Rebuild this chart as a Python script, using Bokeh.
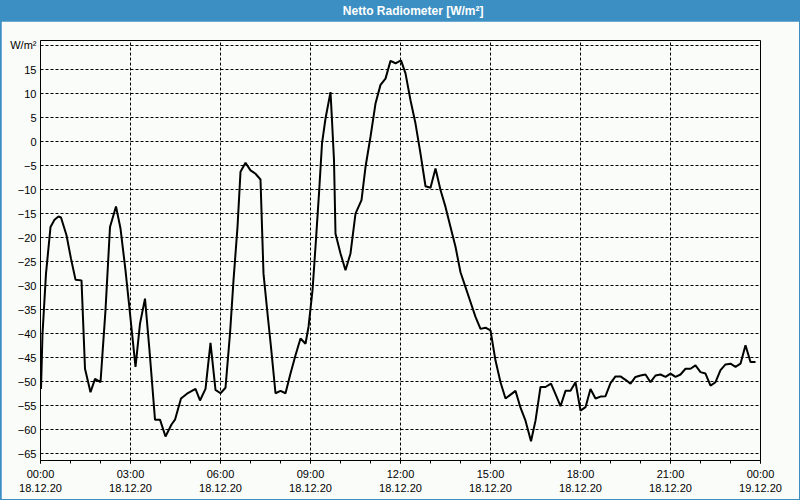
import numpy as np
from bokeh.plotting import figure
from bokeh.layouts import column
from bokeh.models import FixedTicker, Range1d
from bokeh.core.properties import value
from bokeh.embed import file_html
from bokeh.resources import INLINE

title_text = "Netto Radiometer [W/m²]"
y_unit_label = "W/m²"

# sample times (minutes after 18.12.20 00:00) and radiation values (W/m²)
minutes = [1, 4, 11, 20, 28, 36, 41, 52, 61, 70, 82, 89, 100, 109, 120, 130, 139, 151, 160, 170,
           179, 190, 199, 209, 218, 229, 239, 250, 262, 269, 281, 293, 310, 319, 330, 340, 350, 360, 370, 379,
           386, 394, 400, 410, 420, 430, 440, 446, 454, 461, 470, 480, 490, 500, 510, 520, 530, 536, 544, 550,
           557, 563, 570, 580, 583, 587, 590, 600, 610, 620, 630, 642, 650, 660, 670, 680, 690, 700, 710, 721,
           730, 740, 750, 760, 770, 780, 790, 800, 810, 820, 830, 840, 850, 860, 870, 880, 890, 900, 910, 920,
           930, 950, 960, 970, 981, 990, 1000, 1010, 1021, 1030, 1040, 1050, 1060, 1070, 1080, 1090, 1100, 1110, 1120, 1130,
           1140, 1150, 1160, 1170, 1180, 1190, 1200, 1210, 1220, 1230, 1240, 1250, 1260, 1270, 1280, 1290, 1300, 1310, 1320, 1330,
           1340, 1350, 1360, 1370, 1380, 1390, 1400, 1410, 1420, 1430]
values = [-51.5, -40.0, -27.5, -17.8, -16.3, -15.6, -15.8, -19.5, -24.4, -28.75, -28.9, -47.3, -52.2, -49.4, -50.1, -35.1, -17.8, -13.5, -18.1, -26.8,
          -35.8, -46.9, -37.9, -32.7, -43.5, -57.9, -57.9, -61.4, -58.9, -57.9, -53.5, -52.5, -51.5, -53.9, -51.5, -41.9, -51.7, -52.4, -51.25, -40.0,
          -28.9, -17.8, -6.3, -4.4, -6.0, -6.7, -7.9, -27.5, -35.8, -42.8, -52.4, -51.9, -52.4, -48.3, -44.5, -41.0, -42.1, -38.6, -31.0, -21.9,
          -10.8, -0.4, 4.8, 10.3, 4.4, -3.9, -19.2, -23.3, -26.8, -23.3, -15.0, -12.2, -5.3, 1.0, 7.9, 11.8, 13.1, 16.8, 16.3, 16.9,
          14.2, 8.6, 3.75, -2.5, -9.3, -9.6, -5.6, -10.1, -13.6, -17.8, -21.9, -27.2, -30.3, -33.4, -36.5, -39.0, -38.75, -39.3, -45.6, -50.1,
          -53.5, -51.9, -55.4, -58.1, -62.4, -58.1, -51.1, -51.1, -50.4, -52.6, -55.1, -51.9, -51.9, -50.1, -56.0, -55.3, -51.5, -53.5, -53.1, -53.0,
          -50.3, -48.9, -48.9, -49.6, -50.4, -49.0, -48.7, -48.5, -50.1, -48.7, -48.5, -49.0, -48.3, -49.0, -48.5, -47.3, -47.3, -46.6, -48.0, -48.3,
          -50.8, -50.1, -47.6, -46.4, -46.25, -46.9, -46.25, -42.4, -45.9, -45.9]

y_ticks = list(range(-65, 21, 5))
x_tick_hours = [0, 3, 6, 9, 12, 15, 18, 21, 24]
x_tick_times = ["00:00", "03:00", "06:00", "09:00", "12:00", "15:00", "18:00", "21:00", "00:00"]
x_tick_dates = ["18.12.20"] * 8 + ["19.12.20"]

BG = "#fafcfa"
BLUE = "#3c8fc3"
FONT = value("Liberation Sans")

hours = [m / 60.0 for m in minutes]

# title bar
t = figure(width=800, height=21, x_range=Range1d(0, 800), y_range=Range1d(0, 21),
           output_backend="svg", toolbar_location=None, min_border=0,
           background_fill_color=BLUE, border_fill_color=BLUE, outline_line_color=None)
t.axis.visible = False
t.grid.visible = False
t.text(x=[414], y=[10.5], text=[title_text], text_color="white", text_font=FONT,
       text_font_style="bold", text_font_size="12px", text_align="center", text_baseline="middle")

# main chart
p = figure(width=798, height=478, x_range=Range1d(0, 24), y_range=Range1d(-66.4, 21.04),
           output_backend="svg", toolbar_location=None,
           min_border_left=39, min_border_right=39, min_border_top=19, min_border_bottom=39,
           background_fill_color=BG, border_fill_color=BG,
           outline_line_color="black", outline_line_width=1)
p.margin = (0, 1, 1, 1)

p.line(hours, values, line_color="black", line_width=2)

p.xaxis.ticker = FixedTicker(ticks=x_tick_hours, minor_ticks=list(range(25)))
p.xaxis.major_label_overrides = {h: f"{tm}\n{d}" for h, tm, d in zip(x_tick_hours, x_tick_times, x_tick_dates)}
p.xaxis.major_tick_out = 3
p.xaxis.major_tick_in = 0
p.xaxis.minor_tick_out = 3
p.xaxis.minor_tick_in = 0
p.xaxis.major_label_standoff = 4

p.yaxis.ticker = FixedTicker(ticks=y_ticks)
p.yaxis.major_label_overrides = {20: y_unit_label}
p.yaxis.major_tick_out = 0
p.yaxis.major_tick_in = 0
p.yaxis.minor_tick_out = 0
p.yaxis.minor_tick_in = 0
p.yaxis.major_label_standoff = 4

for ax in (p.xaxis, p.yaxis):
    ax.axis_line_color = "black"
    ax.major_label_text_font = "Liberation Sans"
    ax.major_label_text_font_size = "11px"
    ax.major_label_text_color = "black"
    ax.major_tick_line_color = "black"
    ax.minor_tick_line_color = "black"

p.xgrid.ticker = FixedTicker(ticks=x_tick_hours)
p.ygrid.ticker = FixedTicker(ticks=y_ticks)
for g in (p.xgrid, p.ygrid):
    g.grid_line_color = "black"
    g.grid_line_dash = "3 2"
    g.grid_line_width = 1
    g.grid_line_alpha = 1.0

layout = column(t, p, spacing=0, styles={"background-color": BLUE})

open("out.html", "w").write(file_html(layout, INLINE))
